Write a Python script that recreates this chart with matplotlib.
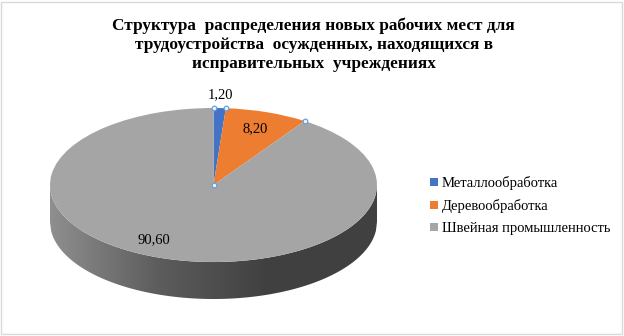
import numpy as np
import matplotlib.pyplot as plt
from matplotlib.patches import Polygon, Rectangle
from matplotlib.colors import LinearSegmentedColormap

# Chart data
categories = ["Металлообработка", "Деревообработка", "Швейная промышленность"]
shares = [1.2, 8.2, 90.6]
value_labels = ["1,20", "8,20", "90,60"]
colors = ["#4472c4", "#ed7d31", "#a5a5a5"]
title = ("Структура  распределения новых рабочих мест для\n"
         "трудоустройства  осужденных, находящихся в\n"
         "исправительных  учреждениях")

serif = "Liberation Serif"
depth = 0.48  # thickness of the 3d disc, in radius units (vertical)

fig = plt.figure(figsize=(6.24, 3.36), dpi=100)
fig.patch.set_facecolor("white")
fig.patches.append(Rectangle((0.002, 0.006), 0.994, 0.988, transform=fig.transFigure,
                             fill=False, edgecolor="#d9d9d9", linewidth=1))

ax = fig.add_axes([50 / 624, 37 / 336, 327 / 624, 191 / 336])

wedges, _ = ax.pie(shares, colors=colors, startangle=90, counterclock=False,
                   wedgeprops=dict(linewidth=0))
ax.set_aspect("auto")
ax.set_xlim(-1, 1)
ax.set_ylim(-1 - depth, 1)
ax.axis("off")

# side wall of the disc (front half only) with a gradient
xs = np.linspace(-1, 1, 300)
top = -np.sqrt(np.clip(1 - xs ** 2, 0, None))
verts = np.concatenate([np.column_stack([xs, top]),
                        np.column_stack([xs[::-1], top[::-1] - depth])])
side = Polygon(verts, closed=True, facecolor="none", edgecolor="none")
ax.add_patch(side)
side_cmap = LinearSegmentedColormap.from_list("side", ["#8f8f8f", "#5c5c5c", "#404040", "#404040"])
grad = np.linspace(0, 1, 256).reshape(1, -1)
img = ax.imshow(grad, cmap=side_cmap, extent=(-1, 1, -1 - depth, 0), aspect="auto",
                zorder=0.5)
img.set_clip_path(side)

# value labels
bounds = 90 - 3.6 * np.concatenate([[0], np.cumsum(shares)])
mids = (bounds[:-1] + bounds[1:]) / 2
label_r = [1.18, 0.78, 0.8]
label_shift = [0, 0, -10]  # angular nudge, degrees
for ang, r, dang, txt in zip(mids, label_r, label_shift, value_labels):
    t = np.radians(ang + dang)
    ax.text(r * np.cos(t), r * np.sin(t), txt, ha="center", va="center",
            fontsize=10.5, family=serif, color="#000000")

# selection handles at slice corners (as in the source screenshot)
hx = [0] + [np.cos(np.radians(b)) for b in bounds[:3]]
hy = [0] + [np.sin(np.radians(b)) for b in bounds[:3]]
ax.plot(hx, hy, linestyle="none", marker="o", markersize=3.4,
        markerfacecolor="#eaf3fb", markeredgecolor="#5b9bd5", markeredgewidth=0.8,
        clip_on=False, zorder=5)

fig.text(0.503, 1 - 68.3 / 336, title, ha="center", va="baseline", fontsize=12.4,
         fontweight="bold", family=serif, linespacing=1.25)

fig.legend(wedges, categories, loc="center left", bbox_to_anchor=(430 / 624, 1 - 205.6 / 336),
           frameon=False, prop=dict(family=serif, size=10.5), handlelength=0.55,
           handleheight=0.55, handletextpad=0.25, labelspacing=0.62,
           borderaxespad=0, borderpad=0)

fig.savefig("out.png", dpi=100)
